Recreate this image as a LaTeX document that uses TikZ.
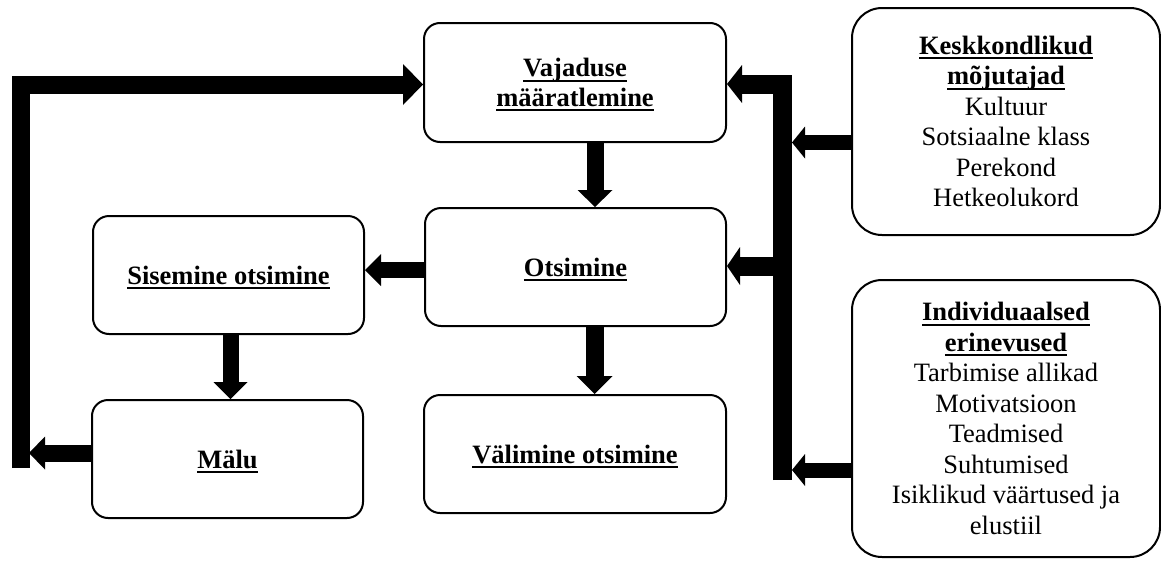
\documentclass[tikz,border=0pt]{standalone}
\usepackage{fontspec}
\setmainfont{Liberation Serif}
\usetikzlibrary{arrows.meta}
\newcommand\ulb[1]{\setbox0\hbox{\bfseries #1}\rlap{\raisebox{-5pt}[0pt][0pt]{\rule{\wd0}{2pt}}}\box0}
\tikzset{
  box/.style={draw, line width=2pt, rounded corners=16pt, align=center, inner sep=0pt,
    font=\fontsize{26.5}{30.5}\selectfont},
  bigbox/.style={box, rounded corners=30pt},
  fat/.style n args={3}{line width=#1, line join=miter, draw=black,
    -{Triangle[length=#2,width=#3,line width=0pt]}}
}
\begin{document}
\begin{tikzpicture}[x=1pt,y=-1pt]
\useasboundingbox (0,0) rectangle (1161,560);
% boxes
\node[box, minimum width=302pt, minimum height=119pt] (vaj) at (575,82.5) {\ulb{Vajaduse}\\[-1pt]\ulb{määratlemine}};
\node[box, minimum width=301pt, minimum height=118pt] (ots) at (575.5,267) {\ulb{Otsimine}};
\node[box, minimum width=271pt, minimum height=118pt] (sis) at (228.5,275) {\ulb{Sisemine otsimine}};
\node[box, minimum width=271pt, minimum height=118pt] (malu) at (227.5,459) {\ulb{Mälu}};
\node[box, minimum width=302pt, minimum height=118pt] (val) at (575,454) {\ulb{Välimine otsimine}};
\node[bigbox, minimum width=308pt, minimum height=227pt] (kesk) at (1006,121.5)
  {\ulb{Keskkondlikud}\\\ulb{mõjutajad}\\Kultuur\\Sotsiaalne klass\\Perekond\\Hetkeolukord};
\node[bigbox, minimum width=308pt, minimum height=277pt] (ind) at (1006,418.5)
  {\ulb{Individuaalsed}\\\ulb{erinevused}\\Tarbimise allikad\\Motivatsioon\\Teadmised\\Suhtumised\\Isiklikud väärtused ja\\elustiil};
% coordinates
\coordinate (lb) at (20.5,468);
\coordinate (mt) at (29,453);
\coordinate (rb) at (782.5,480);
\coordinate (rj) at (782.5,266);
\coordinate (kt) at (792,142.5);
\coordinate (it) at (792,470);
% connectors
\draw[fat={18pt}{20pt}{41pt}] (lb) |- ([yshift=-2pt]vaj.west);
\draw[fat={17pt}{16pt}{33pt}] ([yshift=6pt]malu.west) -- (mt);
\draw[fat={17pt}{17pt}{35pt}] ([xshift=20pt]vaj.south) -- ([xshift=19.5pt]ots.north);
\draw[fat={16pt}{16pt}{32pt}] ([yshift=-3pt]ots.west) -- ([yshift=-3pt]ots.west -| sis.east);
\draw[fat={16pt}{17pt}{34pt}] ([xshift=2pt]sis.south) -- ([xshift=3pt]malu.north);
\draw[fat={18pt}{18pt}{36pt}] ([xshift=19pt]ots.south) -- ([xshift=19pt]ots.south |- val.north);
\draw[fat={19pt}{15pt}{38pt}] (rb) |- ([yshift=-1.5pt]vaj.east);
\draw[fat={19pt}{13pt}{38pt}] (rj) -- (rj -| ots.east);
\draw[fat={15pt}{13pt}{32pt}] (kt -| kesk.west) -- (kt);
\draw[fat={15pt}{13pt}{32pt}] (it -| ind.west) -- (it);
\end{tikzpicture}
\end{document}
